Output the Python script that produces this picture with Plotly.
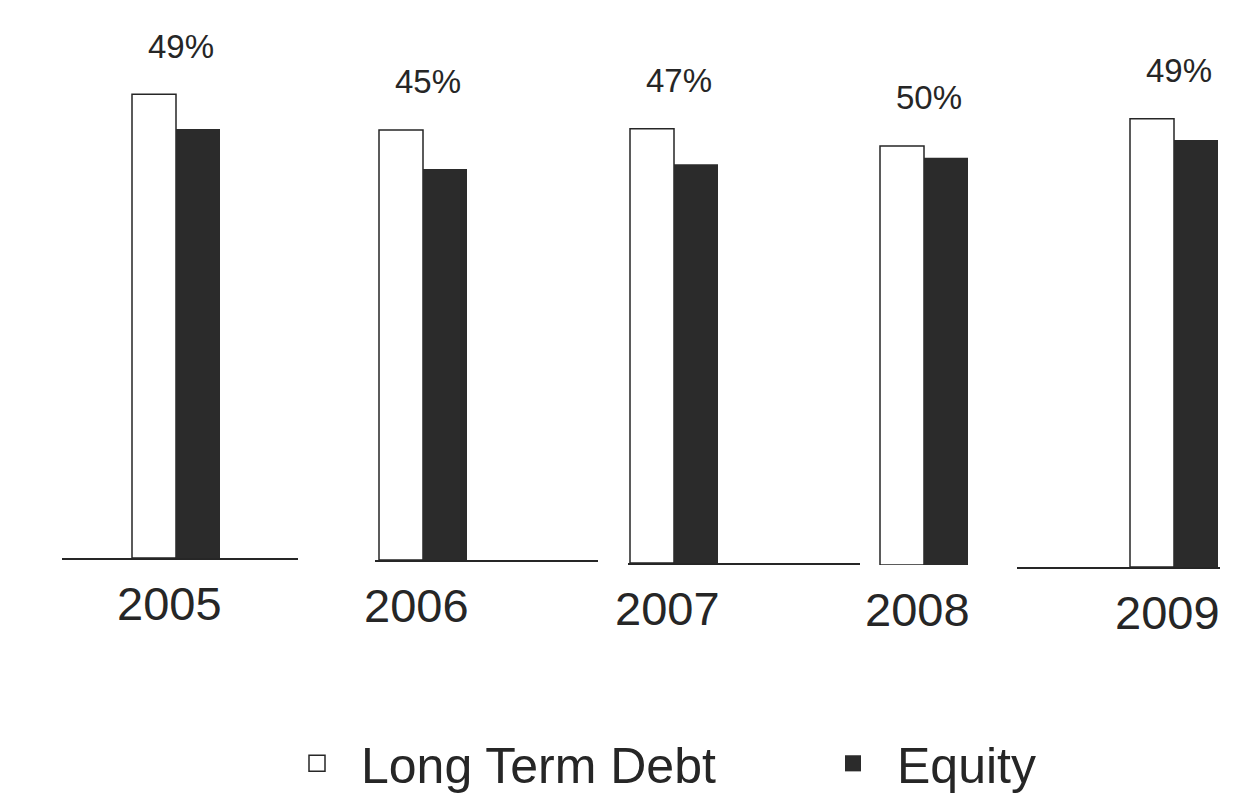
import plotly.graph_objects as go

# Capital structure by year
years = ["2005", "2006", "2007", "2008", "2009"]
long_term_debt = [89.2, 82.7, 83.5, 80.6, 86.2]
equity = [82.5, 75.2, 76.7, 78.3, 82.1]
pct_labels = ["49%", "45%", "47%", "50%", "49%"]

W, H = 1249, 796
FONT = "Liberation Sans, Arial, Helvetica, sans-serif"
INK = "#262626"
EQUITY_FILL = "#2b2b2b"

Y_MAX = 100
PX_PER_Y = 5.2          # vertical pixels per value unit (shared by all panels)
BAR_PX = 44             # width of one bar in pixels
BARGAP = 0.5
PX_PER_X = 2 * BAR_PX / (1 - BARGAP)

# one small panel per year: baseline row, baseline extent and group centre (px)
panels = [
    dict(base=558, x0=62, x1=298, mid=176, line=True),
    dict(base=560, x0=375, x1=598, mid=423, line=True),
    dict(base=563, x0=628, x1=860, mid=674, line=True),
    dict(base=565, x0=870, x1=1000, mid=924, line=False),
    dict(base=567, x0=1017, x1=1220, mid=1174, line=True),
]

fig = go.Figure()
layout_axes = {}
annotations = []

for i, (yr, debt, eq, pct, p) in enumerate(
        zip(years, long_term_debt, equity, pct_labels, panels), start=1):
    xa = "x" if i == 1 else f"x{i}"
    ya = "y" if i == 1 else f"y{i}"
    fig.add_trace(go.Bar(
        x=[yr], y=[debt], name="Long Term Debt", legendgroup="debt",
        showlegend=False, xaxis=xa, yaxis=ya,
        marker=dict(color="white", line=dict(color=INK, width=1.5)),
        hoverinfo="skip",
    ))
    fig.add_trace(go.Bar(
        x=[yr], y=[eq], name="Equity", legendgroup="equity",
        showlegend=False, xaxis=xa, yaxis=ya,
        marker=dict(color=EQUITY_FILL, line=dict(color=EQUITY_FILL, width=0)),
        hoverinfo="skip",
    ))

    ybot = (H - p["base"]) / H
    ytop = ybot + Y_MAX * PX_PER_Y / H
    xkey = "xaxis" if i == 1 else f"xaxis{i}"
    ykey = "yaxis" if i == 1 else f"yaxis{i}"
    layout_axes[xkey] = dict(
        domain=[p["x0"] / W, p["x1"] / W],
        anchor=ya, type="category",
        range=[-(p["mid"] - p["x0"]) / PX_PER_X, (p["x1"] - p["mid"]) / PX_PER_X],
        showline=p["line"], linecolor=INK, linewidth=2,
        showticklabels=False, ticks="", showgrid=False, zeroline=False,
        fixedrange=True,
    )
    layout_axes[ykey] = dict(
        domain=[ybot, ytop], anchor=xa, range=[0, Y_MAX],
        visible=False, showgrid=False, zeroline=False, fixedrange=True,
    )

    # percentage label above the pair (category index 0 = this panel's year)
    annotations.append(dict(
        x=0, y=debt, xref=xa, yref=ya, text=pct, showarrow=False,
        xshift=5, yshift=48, yanchor="middle",
        font=dict(family=FONT, size=33, color=INK),
    ))
    # year label under the baseline
    annotations.append(dict(
        x=0, y=0, xref=xa, yref=ya, text=yr, showarrow=False,
        xshift=-7, yshift=-45, yanchor="middle",
        font=dict(family=FONT, size=47, color=INK),
    ))

# legend entries with larger square swatches than the bar default,
# each in its own legend so the two can sit far apart on one row
fig.add_trace(go.Scatter(
    x=[None], y=[None], mode="markers", name="Long Term Debt",
    legendgroup="debt", showlegend=True, hoverinfo="skip", legend="legend",
    marker=dict(symbol="square", size=30, color="white",
                line=dict(color=INK, width=1.5)),
))
fig.add_trace(go.Scatter(
    x=[None], y=[None], mode="markers", name="Equity",
    legendgroup="equity", showlegend=True, hoverinfo="skip", legend="legend2",
    marker=dict(symbol="square", size=30, color=EQUITY_FILL,
                line=dict(color=EQUITY_FILL, width=0)),
))

legend_style = dict(
    orientation="h", xanchor="left", y=-0.008, yanchor="bottom",
    font=dict(family=FONT, size=50, color=INK), itemwidth=78,
    itemclick=False, itemdoubleclick=False, bgcolor="rgba(0,0,0,0)",
)

fig.update_layout(
    width=W, height=H,
    margin=dict(l=0, r=0, t=0, b=0, autoexpand=False),
    paper_bgcolor="white", plot_bgcolor="white",
    barmode="group", bargap=BARGAP, bargroupgap=0,
    showlegend=True,
    legend=dict(x=273 / W, **legend_style),
    legend2=dict(x=809 / W, **legend_style),
    annotations=annotations,
    **layout_axes,
)

fig.write_html("out.html")
